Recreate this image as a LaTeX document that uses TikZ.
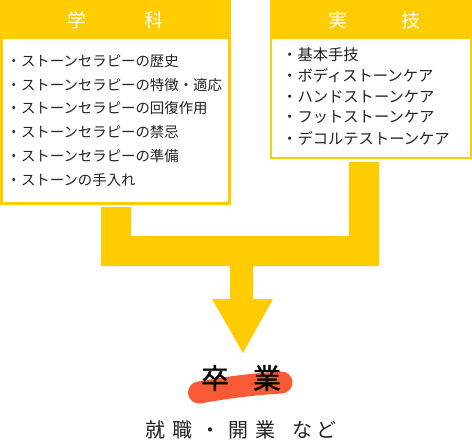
\documentclass[tikz,border=0pt]{standalone}
\usepackage{fontspec}
\newfontfamily\jp{Noto Sans CJK JP}
\newfontfamily\jpb[FakeBold=1.2]{Noto Sans CJK JP}
\definecolor{ylw}{HTML}{FFCC00}
\definecolor{brushc}{HTML}{F85A35}
\definecolor{ink}{HTML}{222222}
\begin{document}
\begin{tikzpicture}[x=1pt,y=-1pt,
  head/.style={font=\jp\fontsize{19}{19}\selectfont, text=white, inner sep=0},
  itemL/.style={font=\jp\fontsize{14.4}{14.4}\selectfont, text=ink, anchor=west, inner sep=0},
  itemR/.style={font=\jp\fontsize{15.3}{15.3}\selectfont, text=ink, anchor=west, inner sep=0},
  boxfill/.style={fill=ylw},
  inner/.style={fill=white},
  flow/.style={fill=ylw}]
\useasboundingbox (0,0) rectangle (472,445);
% left box
\fill[boxfill] (0,0) rectangle (231,205);
\fill[inner] (3,39) rectangle (228,202);
% right box
\fill[boxfill] (270,0) rectangle (472,159);
\fill[inner] (272,39) rectangle (470,157);
% headers
\node[head] (hL) at (115.5,20) {学\hspace{58pt}科};
\node[head] (hR) at (374.5,20) {実\hspace{54pt}技};
% left items
\node[itemL] (l1) at (6.5,61) {・ストーンセラピーの歴史};
\node[itemL] (l2) at (6.5,85) {・ストーンセラピーの特徴・適応};
\node[itemL] (l3) at (6.5,108.5) {・ストーンセラピーの回復作用};
\node[itemL] (l4) at (6.5,132) {・ストーンセラピーの禁忌};
\node[itemL] (l5) at (6.5,156) {・ストーンセラピーの準備};
\node[itemL] (l6) at (6.5,180) {・ストーンの手入れ};
% right items
\node[itemR] (r1) at (282,55) {・基本手技};
\node[itemR] (r2) at (282,76) {・ボディストーンケア};
\node[itemR] (r3) at (282,97) {・ハンドストーンケア};
\node[itemR] (r4) at (282,117.5) {・フットストーンケア};
\node[itemR] (r5) at (282,138) {・デコルテストーンケア};
% merging arrow
\fill[flow] (101,207) -- (131,207) -- (131,236) -- (349,236) -- (349,162) -- (379,162)
  -- (379,266) -- (253,266) -- (253,299) -- (273,299) -- (243,353) -- (212,299)
  -- (230,299) -- (230,266) -- (101,266) -- cycle;
% brush stroke
\draw[brushc, line width=22pt, line cap=round] (199,392.5) .. controls (230,387) and (255,384) .. (281.5,382.5);
% graduation
\node[font=\jpb\fontsize{28}{28}\selectfont, text=black, inner sep=0] (grad) at (241,378) {卒\hspace{24pt}業};
% outcome
\node[font=\jp\fontsize{20}{20}\selectfont, text=ink, inner sep=0, anchor=west] (out) at (145,430)
  {就\kern7pt 職\kern8pt ・\kern8pt 開\kern7pt 業\kern17pt な\kern4pt ど};
\end{tikzpicture}
\end{document}
